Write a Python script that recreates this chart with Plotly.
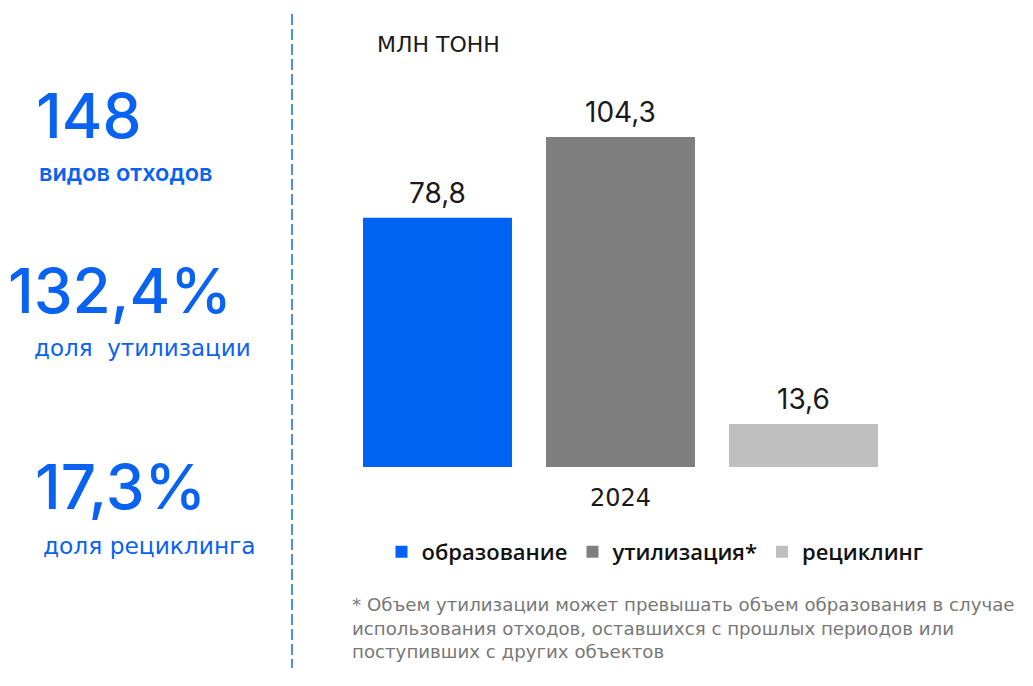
import plotly.graph_objects as go

years = ["2024"]
series = ["образование", "утилизация*", "рециклинг"]
values = [78.8, 104.3, 13.6]
colors = ["#0063F3", "#7F7F7F", "#BFBFBF"]

stat_values = ["148", "132,4%", "17,3%"]
stat_labels = ["видов отходов", "доля  утилизации", "доля рециклинга"]
unit_label = "млн тонн"
footnote = ("* Объем утилизации может превышать объем образования в случае<br>"
            "использования отходов, оставшихся с прошлых периодов или<br>"
            "поступивших с других объектов")

# page body margin of the browser
OFF = 8
W, H = 1033, 686
L, T = 346 - OFF, 100 - OFF
pw, ph = 549, 367
R, B = W - L - pw, H - T - ph
BARGAP = 0


def px(x):
    return (x - OFF - L) / pw


def py(y):
    return (T + ph - (y - OFF)) / ph


BLUE = "#0A62F0"
fig = go.Figure()

for name, v, c in zip(series, values, colors):
    fig.add_trace(go.Bar(x=years, y=[v], name=name, marker=dict(color=c, line=dict(width=0))))

# value labels above each bar of the group
slot = pw * (1 - BARGAP) / len(series)
for i, v in enumerate(values):
    fig.add_annotation(text=f"{v:.1f}".replace(".", ","), x=0, y=v,
                       xshift=(i - (len(series) - 1) / 2) * slot, yshift=6,
                       xanchor="center", yanchor="bottom", showarrow=False,
                       font=dict(size=28, family="Inter", color="#1a1a1a"))

fig.update_layout(
    width=W, height=H, margin=dict(l=L, r=R, t=T, b=B, autoexpand=False),
    barmode="group", bargap=BARGAP, bargroupgap=0.186,
    plot_bgcolor="white", paper_bgcolor="white",
    font=dict(family="Inter", color="#1a1a1a"),
    yaxis=dict(range=[0, 116], visible=False),
    xaxis=dict(type="category", range=[-0.5, 0.5], showline=False, showgrid=False, ticks="",
               ticklabelstandoff=14,
               tickfont=dict(size=24, family="DejaVu Sans", color="#1a1a1a")),
    legend=dict(orientation="h", x=px(655), xanchor="center", y=py(552), yanchor="middle",
                font=dict(size=22, family="Open Sans", weight=600, color="#111"),
                itemwidth=30, traceorder="normal"),
    showlegend=True,
)

# divider
fig.add_shape(type="line", xref="paper", yref="paper", x0=px(292), x1=px(292),
              y0=py(14), y1=py(668), line=dict(color="#4A8FF0", width=2, dash="11px,4px"))

stat_pos = [(88, 115, 126, 172), (120, 290, 142, 348), (120, 487, 149, 545)]
label_fonts = [dict(size=23.5, family="Inter", weight=600),
               dict(size=23, family="DejaVu Sans", weight=400),
               dict(size=23.3, family="DejaVu Sans", weight=400)]
for val, lab, (xv, yv, xl, yl), lf in zip(stat_values, stat_labels, stat_pos, label_fonts):
    fig.add_annotation(text=val, xref="paper", yref="paper", x=px(xv), y=py(yv),
                       xanchor="center", yanchor="middle", showarrow=False,
                       font=dict(size=62, family="Inter", color=BLUE, weight=500))
    fig.add_annotation(text=lab, xref="paper", yref="paper", x=px(xl), y=py(yl),
                       xanchor="center", yanchor="middle", showarrow=False,
                       font=dict(color=BLUE, **lf))

fig.add_annotation(text=unit_label.upper(), xref="paper", yref="paper", x=px(375), y=py(45),
                   xanchor="left", yanchor="middle", showarrow=False,
                   font=dict(size=22, family="DejaVu Sans", color="#1a1a1a"))

fig.add_annotation(text=footnote, xref="paper", yref="paper", x=px(350), y=py(592),
                   xanchor="left", yanchor="top", align="left", showarrow=False,
                   font=dict(size=18.2, family="DejaVu Sans", color="#777777"))

fig.write_html("out.html")
